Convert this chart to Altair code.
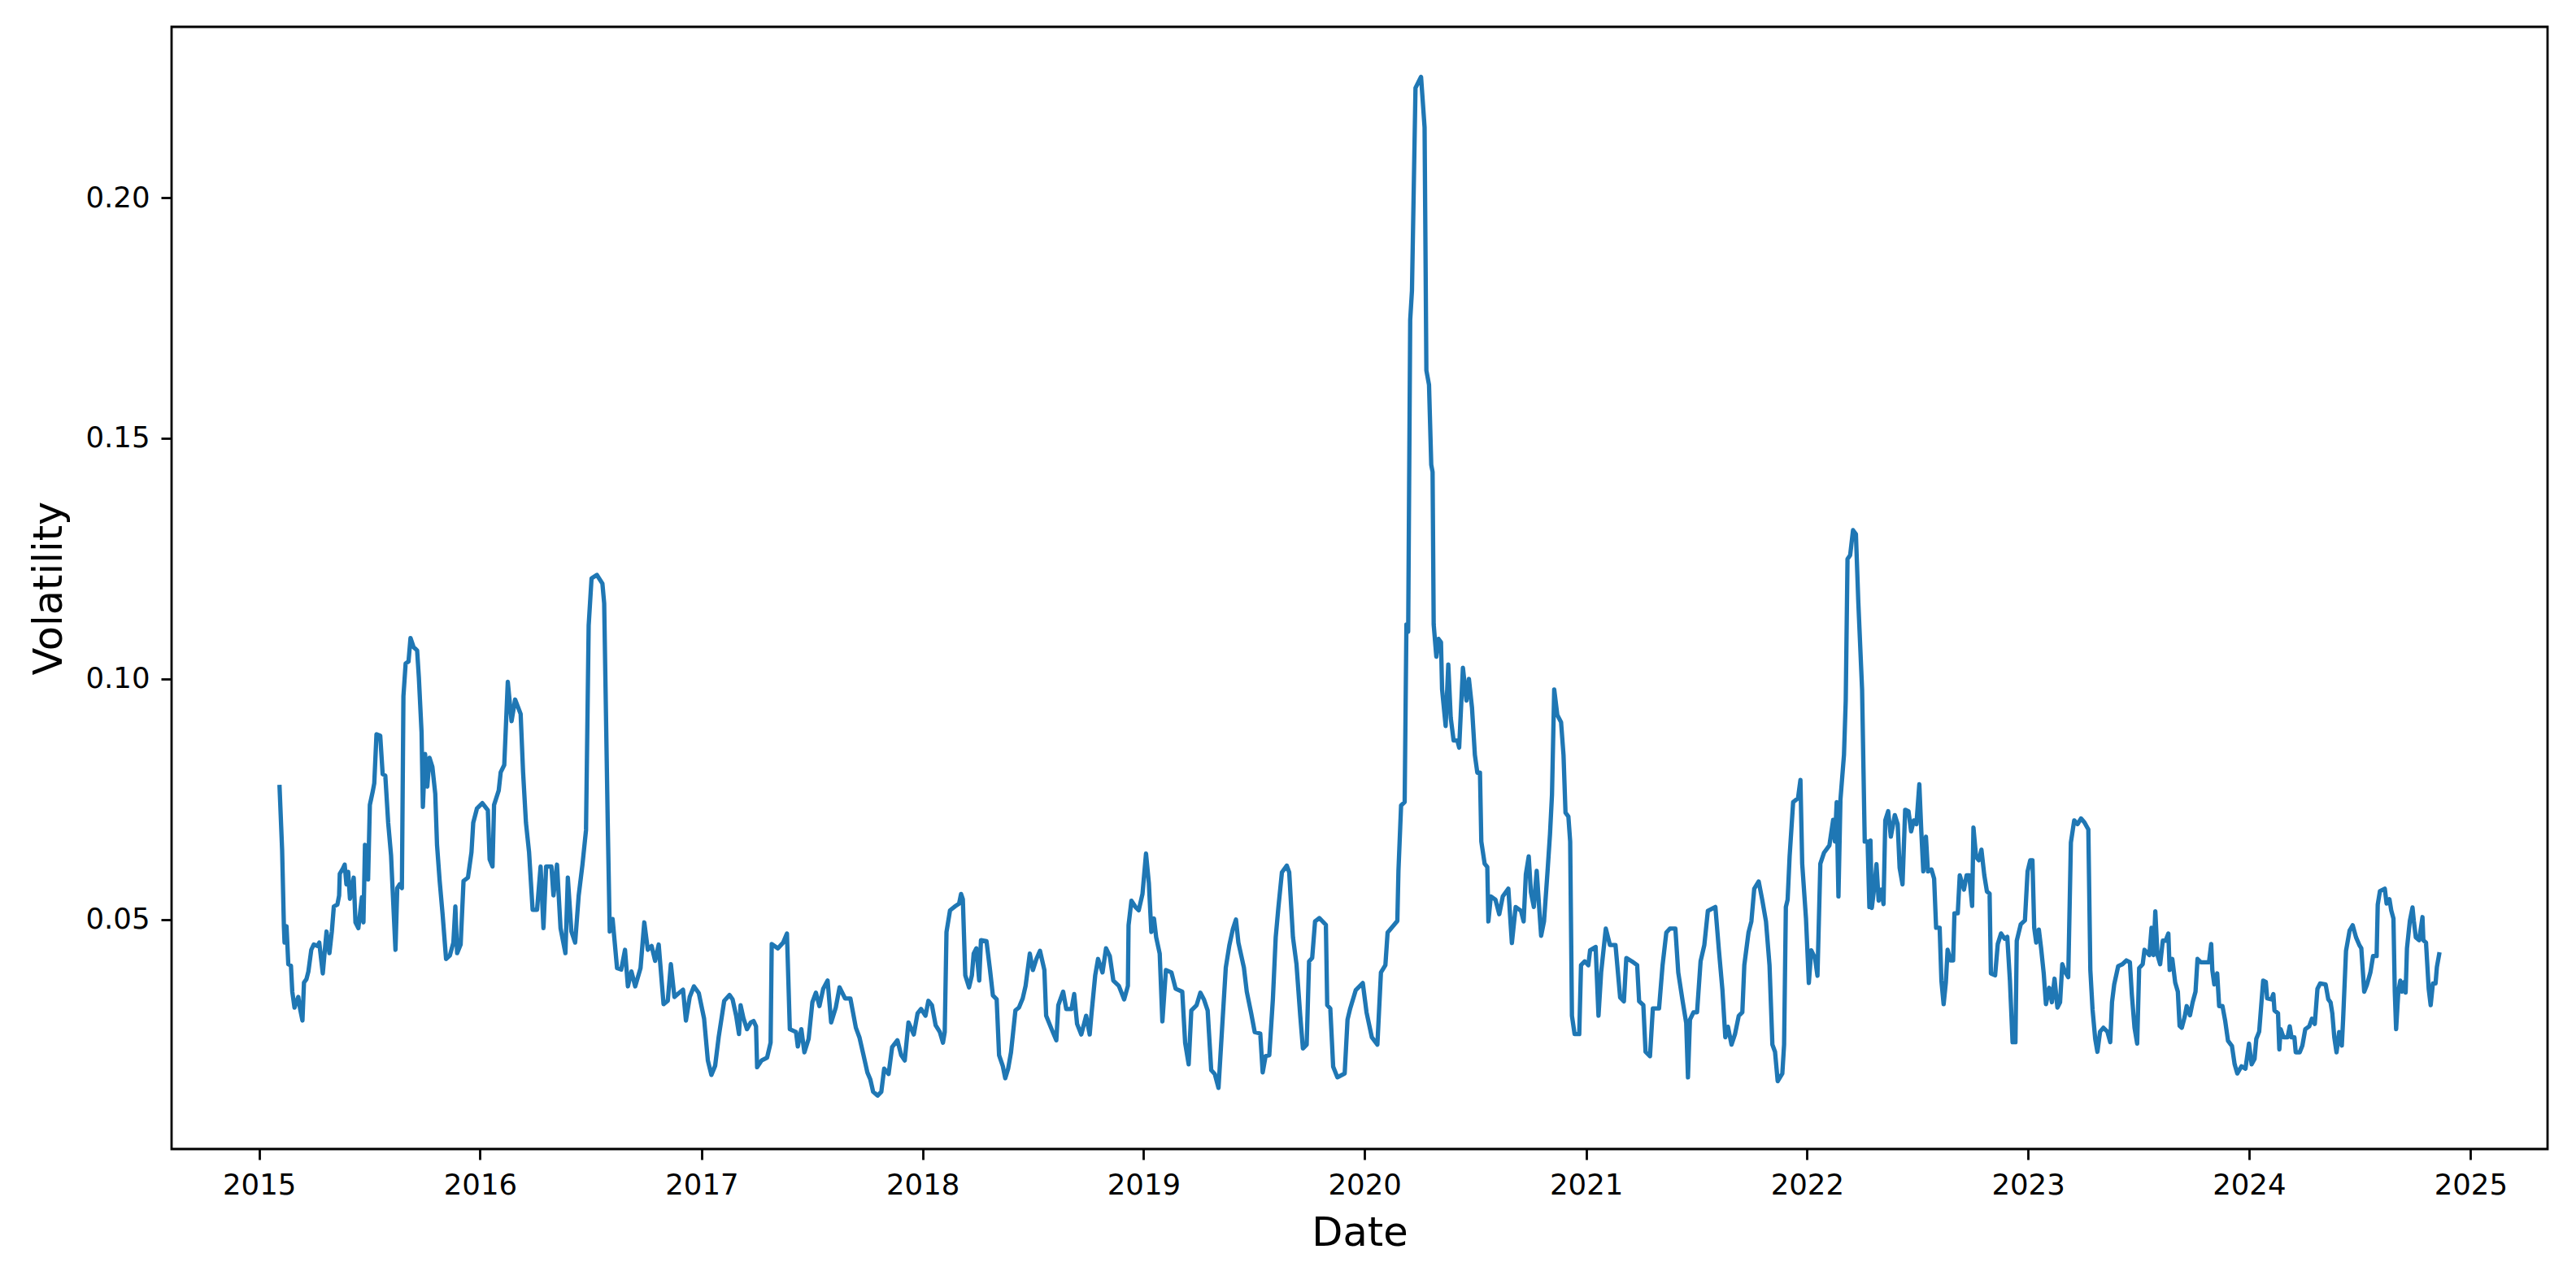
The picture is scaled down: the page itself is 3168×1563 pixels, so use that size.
import altair as alt
import pandas as pd

# ---- data (decimal year, volatility) ----
t1 = [2015.092, 2015.104, 2015.112, 2015.115, 2015.124, 2015.132, 2015.144, 2015.150, 2015.160, 2015.177,
      2015.186, 2015.196, 2015.203, 2015.214, 2015.223, 2015.236, 2015.247, 2015.264, 2015.272, 2015.288,
      2015.296, 2015.305, 2015.318, 2015.329, 2015.338, 2015.354, 2015.362, 2015.365, 2015.379, 2015.387,
      2015.395, 2015.403, 2015.411, 2015.428, 2015.436, 2015.449, 2015.465, 2015.472, 2015.479, 2015.493,
      2015.501, 2015.515, 2015.521, 2015.531, 2015.548, 2015.559, 2015.571, 2015.584, 2015.597, 2015.603,
      2015.617, 2015.625, 2015.636, 2015.646, 2015.653, 2015.663, 2015.676, 2015.685, 2015.699, 2015.715,
      2015.723, 2015.735, 2015.741, 2015.751, 2015.761, 2015.771, 2015.784, 2015.797, 2015.805, 2015.817,
      2015.830, 2015.846, 2015.863, 2015.879, 2015.888, 2015.896, 2015.912, 2015.925, 2015.945, 2015.961,
      2015.969, 2015.986, 2016.010, 2016.035, 2016.043, 2016.056, 2016.063, 2016.084, 2016.093, 2016.109,
      2016.125, 2016.142, 2016.158, 2016.183, 2016.194, 2016.207, 2016.221, 2016.237, 2016.257, 2016.273,
      2016.286, 2016.298, 2016.322, 2016.331, 2016.347, 2016.363, 2016.385, 2016.396, 2016.412, 2016.429,
      2016.445, 2016.462, 2016.478, 2016.490, 2016.503, 2016.527, 2016.552, 2016.560, 2016.576, 2016.585,
      2016.598, 2016.618, 2016.637, 2016.654, 2016.667, 2016.683, 2016.700, 2016.724, 2016.741, 2016.757,
      2016.774, 2016.790, 2016.806, 2016.828, 2016.847, 2016.861, 2016.877, 2016.897, 2016.916, 2016.929,
      2016.946, 2016.965, 2016.987, 2017.011, 2017.028, 2017.044, 2017.061, 2017.077, 2017.102, 2017.126]
v1 = [0.0780, 0.0644, 0.0486, 0.0452, 0.0486, 0.0407, 0.0404, 0.0350, 0.0317, 0.0339,
      0.0313, 0.0290, 0.0369, 0.0376, 0.0392, 0.0437, 0.0448, 0.0445, 0.0452, 0.0388,
      0.0430, 0.0475, 0.0430, 0.0475, 0.0527, 0.0531, 0.0550, 0.0595, 0.0606, 0.0614,
      0.0573, 0.0599, 0.0543, 0.0587, 0.0494, 0.0482, 0.0546, 0.0494, 0.0655, 0.0583,
      0.0738, 0.0768, 0.0783, 0.0885, 0.0882, 0.0802, 0.0799, 0.0701, 0.0633, 0.0573,
      0.0437, 0.0565, 0.0573, 0.0565, 0.0964, 0.1032, 0.1036, 0.1085, 0.1066, 0.1059,
      0.1002, 0.0889, 0.0734, 0.0844, 0.0776, 0.0836, 0.0817, 0.0761, 0.0655, 0.0580,
      0.0512, 0.0418, 0.0425, 0.0452, 0.0527, 0.0430, 0.0448, 0.0580, 0.0587, 0.0640,
      0.0701, 0.0731, 0.0742, 0.0727, 0.0625, 0.0610, 0.0738, 0.0768, 0.0806, 0.0821,
      0.0994, 0.0912, 0.0957, 0.0927, 0.0806, 0.0701, 0.0640, 0.0520, 0.0520, 0.0610,
      0.0482, 0.0610, 0.0610, 0.0550, 0.0614, 0.0482, 0.0430, 0.0587, 0.0475, 0.0452,
      0.0550, 0.0614, 0.0686, 0.1111, 0.1209, 0.1216, 0.1198, 0.1157, 0.0701, 0.0475,
      0.0501, 0.0399, 0.0396, 0.0437, 0.0361, 0.0392, 0.0361, 0.0399, 0.0494, 0.0437,
      0.0445, 0.0414, 0.0448, 0.0324, 0.0331, 0.0407, 0.0339, 0.0347, 0.0354, 0.0290,
      0.0339, 0.0361, 0.0347, 0.0294, 0.0207, 0.0177, 0.0196, 0.0256, 0.0331, 0.0343]

t2 = [2017.140, 2017.156, 2017.169, 2017.176, 2017.189, 2017.205, 2017.222, 2017.235, 2017.246, 2017.251,
      2017.271, 2017.296, 2017.312, 2017.317, 2017.345, 2017.369, 2017.386, 2017.389, 2017.399, 2017.427,
      2017.435, 2017.451, 2017.465, 2017.484, 2017.501, 2017.517, 2017.533, 2017.550, 2017.570, 2017.586,
      2017.607, 2017.624, 2017.649, 2017.673, 2017.698, 2017.714, 2017.731, 2017.750, 2017.763, 2017.776,
      2017.796, 2017.813, 2017.826, 2017.846, 2017.862, 2017.886, 2017.903, 2017.919, 2017.936, 2017.960,
      2017.977, 2017.993, 2018.013, 2018.026, 2018.042, 2018.059, 2018.078, 2018.092, 2018.100, 2018.108,
      2018.124, 2018.149, 2018.165, 2018.174, 2018.182, 2018.193, 2018.210, 2018.223, 2018.231, 2018.243,
      2018.256, 2018.264, 2018.289, 2018.305, 2018.318, 2018.335, 2018.346, 2018.363, 2018.374, 2018.387,
      2018.400, 2018.420, 2018.436, 2018.453, 2018.466, 2018.485, 2018.499, 2018.515, 2018.531, 2018.551,
      2018.559, 2018.581, 2018.605, 2018.614, 2018.636, 2018.650, 2018.674, 2018.686, 2018.699, 2018.718,
      2018.740, 2018.756, 2018.764, 2018.781, 2018.794, 2018.814, 2018.830, 2018.847, 2018.863, 2018.888,
      2018.912, 2018.929, 2018.932, 2018.945, 2018.965, 2018.978, 2018.995, 2019.011, 2019.024, 2019.035,
      2019.047, 2019.057, 2019.073, 2019.085, 2019.101, 2019.126, 2019.145, 2019.175, 2019.188, 2019.204,
      2019.216, 2019.240, 2019.257, 2019.273, 2019.290, 2019.306, 2019.322, 2019.339, 2019.355, 2019.372,
      2019.388, 2019.404, 2019.418, 2019.429, 2019.454, 2019.467, 2019.487, 2019.503, 2019.528, 2019.539,
      2019.552, 2019.569, 2019.585, 2019.598, 2019.610, 2019.626, 2019.648, 2019.659, 2019.676, 2019.692,
      2019.709]
v2 = [0.0334, 0.0300, 0.0262, 0.0322, 0.0295, 0.0272, 0.0286, 0.0289, 0.0278, 0.0193,
      0.0207, 0.0213, 0.0244, 0.0449, 0.0440, 0.0452, 0.0471, 0.0424, 0.0272, 0.0266,
      0.0236, 0.0272, 0.0224, 0.0252, 0.0328, 0.0348, 0.0320, 0.0356, 0.0373, 0.0286,
      0.0317, 0.0359, 0.0336, 0.0336, 0.0275, 0.0255, 0.0221, 0.0182, 0.0168, 0.0142,
      0.0134, 0.0142, 0.0190, 0.0179, 0.0235, 0.0249, 0.0218, 0.0207, 0.0286, 0.0261,
      0.0305, 0.0314, 0.0300, 0.0331, 0.0322, 0.0280, 0.0266, 0.0244, 0.0266, 0.0474,
      0.0519, 0.0528, 0.0533, 0.0553, 0.0542, 0.0384, 0.0359, 0.0384, 0.0429, 0.0440,
      0.0373, 0.0457, 0.0455, 0.0395, 0.0342, 0.0334, 0.0218, 0.0195, 0.0170, 0.0190,
      0.0224, 0.0311, 0.0317, 0.0336, 0.0362, 0.0429, 0.0395, 0.0418, 0.0435, 0.0395,
      0.0300, 0.0275, 0.0249, 0.0322, 0.0350, 0.0314, 0.0314, 0.0345, 0.0283, 0.0261,
      0.0300, 0.0261, 0.0303, 0.0384, 0.0418, 0.0390, 0.0440, 0.0424, 0.0373, 0.0362,
      0.0334, 0.0362, 0.0488, 0.0539, 0.0525, 0.0519, 0.0553, 0.0637, 0.0575, 0.0474,
      0.0502, 0.0463, 0.0429, 0.0288, 0.0395, 0.0390, 0.0356, 0.0350, 0.0244, 0.0199,
      0.0311, 0.0322, 0.0348, 0.0334, 0.0311, 0.0187, 0.0179, 0.0150, 0.0272, 0.0400,
      0.0446, 0.0480, 0.0500, 0.0452, 0.0400, 0.0350, 0.0305, 0.0266, 0.0263, 0.0182,
      0.0216, 0.0218, 0.0334, 0.0463, 0.0525, 0.0598, 0.0612, 0.0598, 0.0463, 0.0407,
      0.0300]

t3 = [2019.721, 2019.738, 2019.749, 2019.763, 2019.776, 2019.795, 2019.825, 2019.831, 2019.845, 2019.858,
      2019.877, 2019.910, 2019.923, 2019.935, 2019.960, 2019.992, 2020.009, 2020.033, 2020.058, 2020.074,
      2020.094, 2020.104, 2020.132, 2020.148, 2020.153, 2020.165, 2020.181, 2020.189, 2020.197, 2020.206,
      2020.214, 2020.230, 2020.255, 2020.271, 2020.279, 2020.291, 2020.301, 2020.307, 2020.312, 2020.324,
      2020.334, 2020.345, 2020.350, 2020.366, 2020.378, 2020.389, 2020.402, 2020.419, 2020.427, 2020.444,
      2020.460, 2020.471, 2020.485, 2020.498, 2020.509, 2020.521, 2020.527, 2020.542, 2020.554, 2020.559,
      2020.570, 2020.591, 2020.608, 2020.624, 2020.649, 2020.665, 2020.682, 2020.706, 2020.718, 2020.728,
      2020.741, 2020.751, 2020.764, 2020.777, 2020.788, 2020.797, 2020.810, 2020.826, 2020.837, 2020.846,
      2020.856, 2020.870, 2020.887, 2020.898, 2020.907, 2020.920, 2020.928, 2020.936, 2020.948, 2020.969,
      2020.977, 2020.994, 2021.010, 2021.018, 2021.043, 2021.056, 2021.068, 2021.089, 2021.108, 2021.133,
      2021.154, 2021.171, 2021.182, 2021.207, 2021.231, 2021.240, 2021.259, 2021.269, 2021.289, 2021.302,
      2021.330, 2021.346, 2021.363, 2021.379, 2021.404, 2021.417, 2021.437, 2021.453, 2021.461, 2021.470,
      2021.486, 2021.502, 2021.518, 2021.535, 2021.551, 2021.585, 2021.601, 2021.617, 2021.630, 2021.642,
      2021.658, 2021.674, 2021.691, 2021.707, 2021.716, 2021.735, 2021.748, 2021.761, 2021.781, 2021.797,
      2021.814, 2021.830, 2021.843, 2021.855, 2021.867, 2021.888, 2021.896, 2021.904, 2021.912, 2021.921,
      2021.937, 2021.959, 2021.970, 2021.978, 2021.995, 2022.008, 2022.019, 2022.036, 2022.047, 2022.060,
      2022.077, 2022.101, 2022.118, 2022.126, 2022.134, 2022.142, 2022.151, 2022.167, 2022.175, 2022.183,
      2022.195, 2022.208, 2022.221, 2022.232, 2022.249, 2022.261, 2022.274, 2022.282]
v3 = [0.0232, 0.0240, 0.0413, 0.0420, 0.0496, 0.0503, 0.0489, 0.0322, 0.0315, 0.0194,
      0.0172, 0.0180, 0.0292, 0.0315, 0.0353, 0.0368, 0.0307, 0.0255, 0.0240, 0.0390,
      0.0405, 0.0473, 0.0488, 0.0497, 0.0601, 0.0737, 0.0744, 0.1113, 0.1098, 0.1746,
      0.1807, 0.2228, 0.2251, 0.2146, 0.1641, 0.1611, 0.1445, 0.1430, 0.1113, 0.1046,
      0.1083, 0.1076, 0.0978, 0.0902, 0.1030, 0.0919, 0.0872, 0.0872, 0.0857, 0.1023,
      0.0955, 0.1000, 0.0940, 0.0842, 0.0805, 0.0805, 0.0662, 0.0616, 0.0609, 0.0496,
      0.0548, 0.0541, 0.0511, 0.0548, 0.0564, 0.0451, 0.0526, 0.0518, 0.0496, 0.0594,
      0.0631, 0.0556, 0.0526, 0.0601, 0.0526, 0.0466, 0.0496, 0.0601, 0.0677, 0.0759,
      0.0978, 0.0925, 0.0910, 0.0842, 0.0722, 0.0714, 0.0662, 0.0300, 0.0262, 0.0262,
      0.0405, 0.0413, 0.0405, 0.0436, 0.0443, 0.0300, 0.0390, 0.0481, 0.0447, 0.0447,
      0.0338, 0.0330, 0.0420, 0.0413, 0.0405, 0.0330, 0.0322, 0.0225, 0.0216, 0.0315,
      0.0315, 0.0405, 0.0473, 0.0481, 0.0481, 0.0390, 0.0330, 0.0285, 0.0172, 0.0292,
      0.0307, 0.0307, 0.0413, 0.0447, 0.0518, 0.0526, 0.0436, 0.0353, 0.0255, 0.0277,
      0.0240, 0.0262, 0.0300, 0.0307, 0.0405, 0.0473, 0.0496, 0.0564, 0.0579, 0.0541,
      0.0496, 0.0405, 0.0240, 0.0225, 0.0164, 0.0180, 0.0240, 0.0526, 0.0541, 0.0631,
      0.0744, 0.0752, 0.0790, 0.0616, 0.0503, 0.0368, 0.0436, 0.0420, 0.0383, 0.0616,
      0.0639, 0.0654, 0.0707, 0.0662, 0.0744, 0.0548, 0.0749, 0.0842, 0.0955, 0.1249,
      0.1257, 0.1309, 0.1301, 0.1159, 0.0978, 0.0662, 0.0662, 0.0526]

t4 = [2022.287, 2022.293, 2022.305, 2022.314, 2022.324, 2022.336, 2022.346, 2022.354, 2022.367, 2022.379,
      2022.397, 2022.410, 2022.419, 2022.432, 2022.444, 2022.459, 2022.471, 2022.483, 2022.495, 2022.508,
      2022.517, 2022.526, 2022.538, 2022.547, 2022.563, 2022.575, 2022.584, 2022.600, 2022.608, 2022.618,
      2022.628, 2022.636, 2022.649, 2022.661, 2022.667, 2022.682, 2022.691, 2022.710, 2022.722, 2022.734,
      2022.747, 2022.753, 2022.765, 2022.777, 2022.789, 2022.802, 2022.814, 2022.826, 2022.832, 2022.851,
      2022.863, 2022.878, 2022.894, 2022.906, 2022.918, 2022.930, 2022.943, 2022.949, 2022.967, 2022.986,
      2022.998, 2023.010, 2023.020, 2023.028, 2023.037, 2023.049, 2023.059, 2023.071, 2023.081, 2023.096,
      2023.108, 2023.120, 2023.133, 2023.145, 2023.155, 2023.167, 2023.182, 2023.194, 2023.209, 2023.224,
      2023.240, 2023.255, 2023.273, 2023.282, 2023.292, 2023.304, 2023.314, 2023.326, 2023.341, 2023.359,
      2023.372, 2023.380, 2023.390, 2023.408, 2023.427, 2023.445, 2023.461, 2023.470, 2023.482, 2023.494,
      2023.503, 2023.519, 2023.527, 2023.549, 2023.559, 2023.568, 2023.576, 2023.586, 2023.598, 2023.610,
      2023.623, 2023.635, 2023.641, 2023.653, 2023.666, 2023.678, 2023.686, 2023.696, 2023.709, 2023.718,
      2023.733, 2023.745, 2023.758, 2023.767, 2023.782, 2023.800, 2023.819, 2023.829, 2023.834, 2023.843,
      2023.856, 2023.865, 2023.880, 2023.892, 2023.905, 2023.923, 2023.935, 2023.947, 2023.966, 2023.984,
      2024.000, 2024.012, 2024.025, 2024.033, 2024.046]
v4 = [0.0664, 0.0524, 0.0570, 0.0615, 0.0539, 0.0562, 0.0532, 0.0706, 0.0725, 0.0672,
      0.0717, 0.0698, 0.0607, 0.0573, 0.0728, 0.0725, 0.0683, 0.0706, 0.0698, 0.0781,
      0.0683, 0.0600, 0.0672, 0.0600, 0.0604, 0.0585, 0.0483, 0.0483, 0.0373, 0.0324,
      0.0369, 0.0437, 0.0415, 0.0415, 0.0513, 0.0513, 0.0592, 0.0562, 0.0592, 0.0592,
      0.0528, 0.0691, 0.0630, 0.0623, 0.0645, 0.0592, 0.0558, 0.0554, 0.0388, 0.0384,
      0.0449, 0.0471, 0.0460, 0.0464, 0.0373, 0.0245, 0.0245, 0.0456, 0.0490, 0.0498,
      0.0600, 0.0623, 0.0623, 0.0483, 0.0452, 0.0479, 0.0441, 0.0388, 0.0324, 0.0358,
      0.0328, 0.0377, 0.0317, 0.0328, 0.0407, 0.0392, 0.0380, 0.0660, 0.0706, 0.0698,
      0.0710, 0.0702, 0.0687, 0.0395, 0.0313, 0.0252, 0.0225, 0.0267, 0.0275, 0.0267,
      0.0245, 0.0328, 0.0365, 0.0403, 0.0407, 0.0415, 0.0411, 0.0343, 0.0275, 0.0242,
      0.0399, 0.0407, 0.0437, 0.0426, 0.0483, 0.0426, 0.0517, 0.0426, 0.0407, 0.0456,
      0.0456, 0.0471, 0.0395, 0.0418, 0.0369, 0.0350, 0.0279, 0.0275, 0.0298, 0.0320,
      0.0301, 0.0328, 0.0350, 0.0418, 0.0411, 0.0411, 0.0411, 0.0449, 0.0395, 0.0365,
      0.0388, 0.0320, 0.0320, 0.0290, 0.0248, 0.0237, 0.0199, 0.0180, 0.0195, 0.0190,
      0.0242, 0.0199, 0.0210, 0.0252, 0.0267]

t5 = [2024.064, 2024.076, 2024.082, 2024.101, 2024.110, 2024.115, 2024.131, 2024.137, 2024.143, 2024.156,
      2024.174, 2024.184, 2024.192, 2024.205, 2024.211, 2024.229, 2024.241, 2024.254, 2024.272, 2024.284,
      2024.297, 2024.309, 2024.321, 2024.346, 2024.358, 2024.368, 2024.376, 2024.385, 2024.395, 2024.407,
      2024.419, 2024.425, 2024.438, 2024.454, 2024.468, 2024.483, 2024.499, 2024.507, 2024.520, 2024.532,
      2024.548, 2024.560, 2024.576, 2024.581, 2024.591, 2024.613, 2024.621, 2024.634, 2024.642, 2024.652,
      2024.658, 2024.664, 2024.674, 2024.683, 2024.691, 2024.701, 2024.707, 2024.713, 2024.726, 2024.738,
      2024.744, 2024.753, 2024.768, 2024.783, 2024.787, 2024.799, 2024.811, 2024.820, 2024.830, 2024.842,
      2024.848, 2024.860]
v5 = [0.0373, 0.0370, 0.0336, 0.0334, 0.0345, 0.0311, 0.0305, 0.0230, 0.0272, 0.0255,
      0.0255, 0.0278, 0.0255, 0.0255, 0.0224, 0.0224, 0.0238, 0.0272, 0.0278, 0.0294,
      0.0283, 0.0356, 0.0367, 0.0365, 0.0334, 0.0328, 0.0305, 0.0255, 0.0224, 0.0266,
      0.0238, 0.0294, 0.0435, 0.0477, 0.0488, 0.0463, 0.0446, 0.0440, 0.0350, 0.0364,
      0.0390, 0.0424, 0.0424, 0.0531, 0.0559, 0.0564, 0.0533, 0.0542, 0.0519, 0.0502,
      0.0350, 0.0272, 0.0350, 0.0373, 0.0350, 0.0370, 0.0348, 0.0440, 0.0497, 0.0525,
      0.0497, 0.0463, 0.0457, 0.0505, 0.0457, 0.0452, 0.0356, 0.0322, 0.0367, 0.0367,
      0.0401, 0.0432]

year_ticks = list(range(2015, 2026))
vol_ticks = [0.05, 0.10, 0.15, 0.20]


def dec_to_ts(y):
    yr = int(y)
    start = pd.Timestamp(year=yr, month=1, day=1)
    end = pd.Timestamp(year=yr + 1, month=1, day=1)
    return (start + (end - start) * (y - yr)).round("h")


def to_dt(ts):
    return alt.DateTime(year=ts.year, month=ts.month, date=ts.day, hours=ts.hour)


t_all = t1 + t2 + t3 + t4 + t5
v_all = v1 + v2 + v3 + v4 + v5

df = pd.DataFrame({"Date": [dec_to_ts(y) for y in t_all], "Volatility": v_all})

span = max(t_all) - min(t_all)
x_lo = dec_to_ts(min(t_all) - 0.05 * span)
x_hi = dec_to_ts(max(t_all) + 0.05 * span)

chart = (
    alt.Chart(df)
    .mark_line(color="#1f77b4", strokeWidth=5.3, strokeJoin="round")
    .encode(
        x=alt.X(
            "Date:T",
            scale=alt.Scale(domain=[to_dt(x_lo), to_dt(x_hi)], nice=False),
            axis=alt.Axis(
                values=[alt.DateTime(year=y, month=1, date=1) for y in year_ticks],
                format="%Y",
                title="Date",
                titlePadding=17,
                labelFlush=False,
                labelOverlap=False,
            ),
        ),
        y=alt.Y(
            "Volatility:Q",
            scale=alt.Scale(domain=[0.0023, 0.2355], nice=False, zero=False),
            axis=alt.Axis(
                values=vol_ticks,
                format=".2f",
                title="Volatility",
                titlePadding=19.6,
                labelOverlap=False,
            ),
        ),
    )
    .properties(
        width=2922,
        height=1380,
        autosize=alt.AutoSizeParams(type="none"),
        padding={"left": 203, "top": 25, "right": 20, "bottom": 142},
    )
    .configure_view(stroke="black", strokeWidth=2.8)
    .configure_axis(
        domain=False,
        grid=False,
        tickColor="black",
        tickWidth=2.8,
        tickSize=13,
        labelFont="DejaVu Sans",
        labelFontSize=35.5,
        labelColor="black",
        labelPadding=14,
        titleFont="DejaVu Sans",
        titleFontSize=49.5,
        titleFontWeight="normal",
        titleColor="black",
    )
)

chart.save("out.html", embed_options={"renderer": "svg", "actions": False})
